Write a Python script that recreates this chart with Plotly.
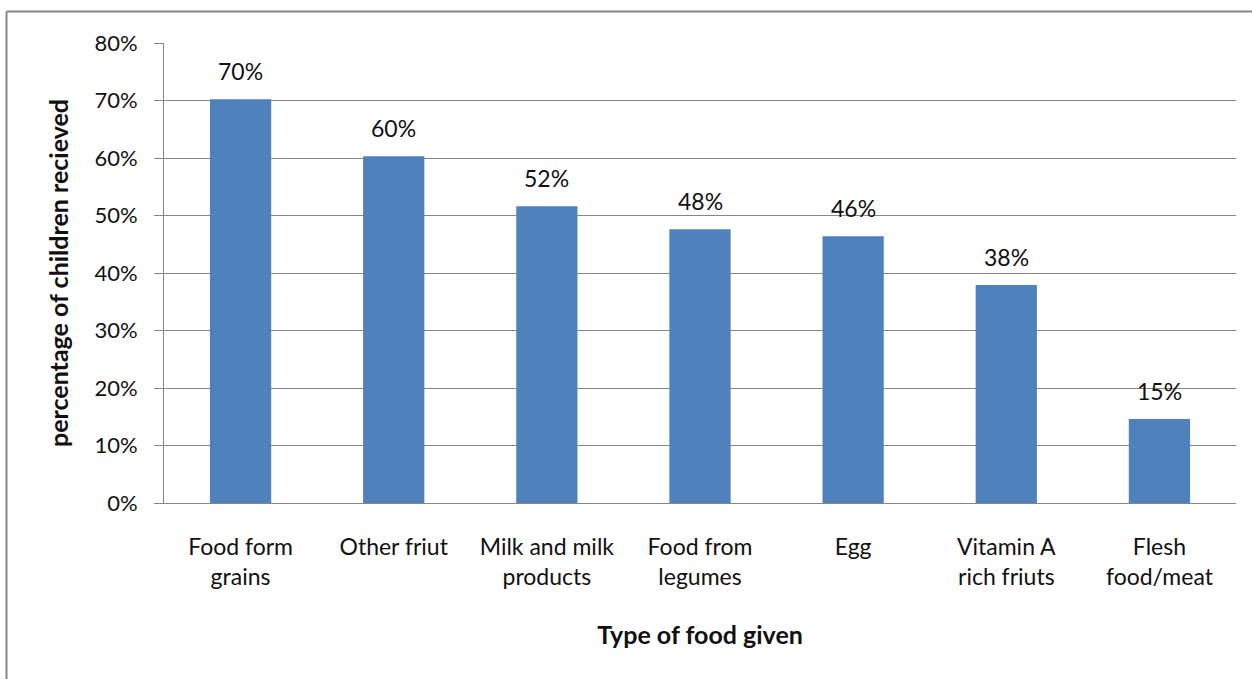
import plotly.graph_objects as go

categories = ["Food form<br>grains", "Other friut", "Milk and milk<br>products", "Food from<br>legumes",
              "Egg", "Vitamin A<br>rich friuts", "Flesh<br>food/meat"]
values = [70.2, 60.3, 51.6, 47.6, 46.4, 37.9, 14.6]
labels = ["70%", "60%", "52%", "48%", "46%", "38%", "15%"]
y_ticks = [0, 10, 20, 30, 40, 50, 60, 70, 80]
y_tick_labels = ["0%", "10%", "20%", "30%", "40%", "50%", "60%", "70%", "80%"]

FONT = "Lato"
GRID = "#868686"
TXT = "#111111"

fig = go.Figure()
fig.add_trace(go.Bar(x=categories, y=values, marker=dict(color="#4F81BD", line=dict(width=0)),
                     width=0.4, hoverinfo="skip"))

for c, v, t in zip(categories, values, labels):
    fig.add_annotation(x=c, y=v, text=t, showarrow=False, yanchor="bottom", yshift=12,
                       font=dict(family=FONT, size=23, color=TXT))

# outer chart border (partially visible)
fig.add_shape(type="line", xref="paper", yref="paper", x0=-0.1469, x1=-0.1469, y0=-0.5, y1=1.0685,
              line=dict(color=GRID, width=2))
fig.add_shape(type="line", xref="paper", yref="paper", x0=-0.1469, x1=1.1, y0=1.0685, y1=1.0685,
              line=dict(color=GRID, width=2))

fig.update_layout(
    width=1252, height=679,
    margin=dict(l=164, r=16, t=43, b=176),
    paper_bgcolor="white", plot_bgcolor="white",
    showlegend=False, bargap=0.6,
    font=dict(family=FONT, size=20, color=TXT),
    xaxis=dict(showline=True, linecolor=GRID, linewidth=1, ticks="", showgrid=False,
               tickfont=dict(family=FONT, size=23, color=TXT), ticklabelstandoff=23,
               title=dict(text="<b>Type of food given</b>", font=dict(family=FONT, size=25, color=TXT),
                          standoff=37)),
    yaxis=dict(range=[0, 80], tickmode="array", tickvals=y_ticks, ticktext=y_tick_labels,
               showgrid=True, gridcolor=GRID, gridwidth=1,
               showline=True, linecolor=GRID, linewidth=1, ticks="outside", ticklen=9, tickcolor=GRID,
               zeroline=False, tickfont=dict(family=FONT, size=22, color=TXT), ticklabelstandoff=12,
               title=dict(text="<b>percentage of children recieved</b>",
                          font=dict(family=FONT, size=25, color=TXT), standoff=18)),
)

fig.write_html("out.html")
